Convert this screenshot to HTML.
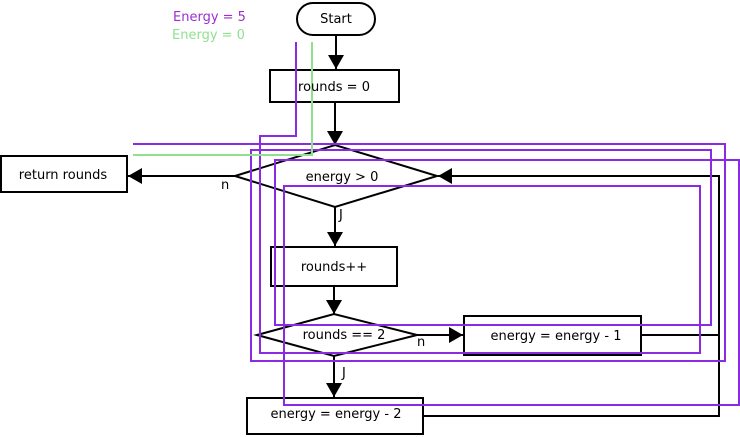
<!DOCTYPE html>
<html><head><style>body{margin:0;background:#fff}svg{display:block}text{font-family:"DejaVu Sans","Liberation Sans",sans-serif;font-size:13px}</style></head>
<body>
<svg width="740" height="437" viewBox="0 0 740 437" xmlns="http://www.w3.org/2000/svg">
<defs>
<marker id="b" markerWidth="14" markerHeight="16" refX="14" refY="8" orient="auto" markerUnits="userSpaceOnUse"><path d="M0,0 L14,8 L0,16 z" fill="#000"/></marker></defs>
<g fill="#fff" stroke="#000" stroke-width="2">
<rect x="297" y="3" width="78" height="32" rx="16"/>
<rect x="270" y="70" width="129" height="32"/>
<polygon points="235,176 335,145 437,176 335,207"/>
<rect x="1" y="156" width="126" height="36"/>
<rect x="271" y="247" width="126" height="39"/>
<polygon points="257,335 334,314 417,335 334,356"/>
<rect x="464" y="316" width="177" height="39"/>
<rect x="247" y="398" width="176" height="36"/>
</g>
<g stroke="#000" stroke-width="2" fill="none">
<line x1="336" y1="35" x2="336" y2="69" marker-end="url(#b)"/>
<line x1="335" y1="102" x2="335" y2="145" marker-end="url(#b)"/>
<line x1="235" y1="176" x2="128" y2="176" marker-end="url(#b)"/>
<line x1="335" y1="207" x2="335" y2="246" marker-end="url(#b)"/>
<line x1="334" y1="286" x2="334" y2="314" marker-end="url(#b)"/>
<line x1="417" y1="335" x2="463" y2="335" marker-end="url(#b)"/>
<line x1="334" y1="356" x2="334" y2="397" marker-end="url(#b)"/>
<polyline points="641,335 719,335"/>
<polyline points="423,416 719,416 719,176 438,176" marker-end="url(#b)"/>
</g>
<g fill="none" stroke="#8a2be2" stroke-width="2">
<polyline points="296,42 296,136 260,136 260,353 700,353 700,186 284,186 284,405 739,405 739,160 275,160 275,325 711,325 711,150 251,150 251,361 725,361 725,144 133,144"/>
</g>
<polyline points="312,42 312,155 133,155" fill="none" stroke="#90e090" stroke-width="2"/>
<text x="173" y="21" fill="#9b30d0">Energy = 5</text>
<text x="172" y="39" fill="#90e090">Energy = 0</text>
<g text-anchor="middle" fill="#000">
<text x="336" y="23">Start</text>
<text x="334" y="91">rounds = 0</text>
<text x="342" y="181">energy &gt; 0</text>
<text x="63" y="179">return rounds</text>
<text x="334" y="271">rounds++</text>
<text x="344" y="339">rounds == 2</text>
<text x="556" y="340">energy = energy - 1</text>
<text x="336" y="418">energy = energy - 2</text>
</g>
<text x="221" y="189">n</text>
<text x="339" y="219">J</text>
<text x="417" y="346">n</text>
<text x="342" y="377">J</text>
</svg>
</body></html>
